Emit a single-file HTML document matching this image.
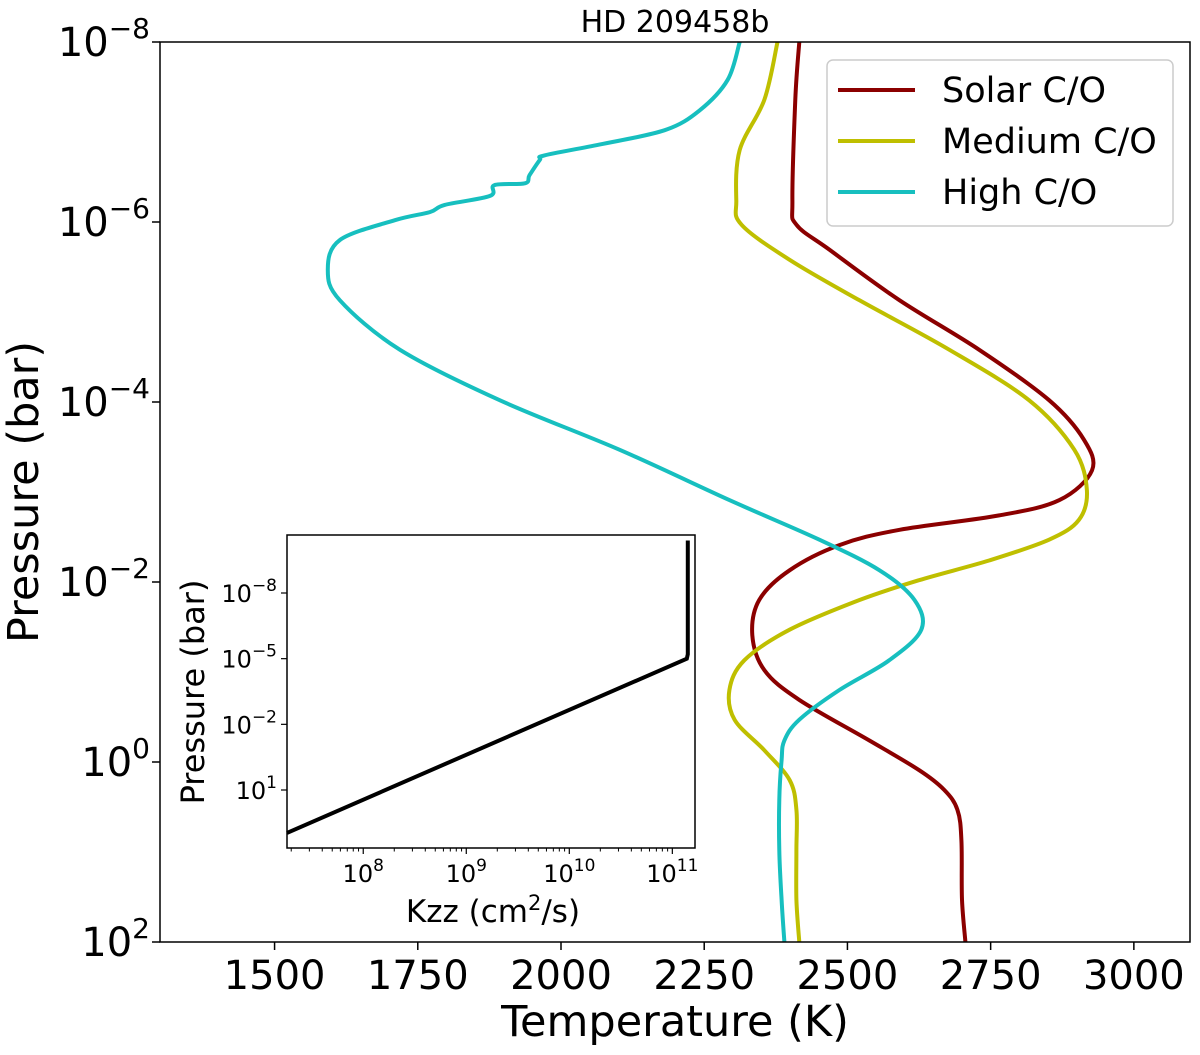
<!DOCTYPE html>
<html><head><meta charset="utf-8"><style>
body{margin:0;background:#fff;}
svg{display:block;font-family:"DejaVu Sans","Liberation Sans",sans-serif;}
</style></head><body>
<svg id="chart" width="1200" height="1055"></svg>
<script>
const solarT=[2416,2409,2404,2411,2469,2591,2730,2852,2913,2927,2870,2765,2591,2486,2399,2346,2334,2355,2416,2538,2625,2669,2692,2699,2700,2706];
const solarP=[-8,-7.36,-6.24,-5.97,-5.69,-5.13,-4.58,-4.02,-3.58,-3.24,-2.91,-2.74,-2.58,-2.41,-2.13,-1.8,-1.41,-1.02,-0.69,-0.24,0.09,0.31,0.53,0.87,1.53,2];
const medT=[2378,2355,2312,2306,2315,2399,2521,2678,2817,2896,2918,2904,2852,2748,2625,2521,2399,2320,2294,2303,2355,2399,2411,2411,2411,2416];
const medP=[-8,-7.36,-6.8,-6.24,-5.97,-5.58,-5.13,-4.58,-4.02,-3.47,-3.02,-2.69,-2.47,-2.24,-2.02,-1.8,-1.47,-1.13,-0.8,-0.47,-0.13,0.2,0.53,0.98,1.53,2];
const highT=[2312,2291,2242,2181,2067,1971,1963,1945,1937,1884,1876,1797,1771,1710,1614,1593,1614,1719,1893,2102,2294,2451,2556,2617,2629,2573,2486,2416,2390,2385,2381,2381,2385,2390];
const highP=[-8,-7.58,-7.24,-7.02,-6.86,-6.74,-6.69,-6.52,-6.43,-6.41,-6.29,-6.19,-6.11,-6.02,-5.8,-5.47,-5.13,-4.58,-4.02,-3.47,-2.91,-2.47,-2.13,-1.8,-1.47,-1.13,-0.8,-0.47,-0.24,-0.02,0.42,0.98,1.53,2];
const xTicks=[1500,1750,2000,2250,2500,2750,3000];
const yTicks=[-8,-6,-4,-2,0,2];
const kzzLogK=[7.26,11.14,11.15,11.15];
const kzzLogP=[2.96,-5,-5.2,-10.4];
const insetXTicks=[8,9,10,11];
const insetYTicks=[-8,-5,-2,1];

const NS="http://www.w3.org/2000/svg";
const svg=document.getElementById('chart');
function mk(tag,attrs,parent){const e=document.createElementNS(NS,tag);for(const k in attrs)e.setAttribute(k,attrs[k]);(parent||svg).appendChild(e);return e;}
const L=160,R=1190,T=42,B=942;
const xs=t=>L+(t-1300)/(3098-1300)*(R-L);
const ys=p=>T+(p+8)/10*(B-T);

function smoothPath(pts){
  let d='M'+pts[0][0].toFixed(1)+','+pts[0][1].toFixed(1);
  for(let i=0;i<pts.length-1;i++){
    const p0=pts[Math.max(0,i-1)],p1=pts[i],p2=pts[i+1],p3=pts[Math.min(pts.length-1,i+2)];
    const c1=[p1[0]+(p2[0]-p0[0])/6,p1[1]+(p2[1]-p0[1])/6];
    const c2=[p2[0]-(p3[0]-p1[0])/6,p2[1]-(p3[1]-p1[1])/6];
    d+='C'+c1[0].toFixed(1)+','+c1[1].toFixed(1)+' '+c2[0].toFixed(1)+','+c2[1].toFixed(1)+' '+p2[0].toFixed(1)+','+p2[1].toFixed(1);
  }
  return d;
}
function series(tA,pA,color,name){
  const pts=tA.map((t,i)=>[xs(t),ys(pA[i])]);
  const p=mk('path',{d:smoothPath(pts),fill:'none',stroke:color,'stroke-width':4,'stroke-linejoin':'round'});
  
  
}
series(solarT,solarP,'#8b0000','solar-co-line');
series(medT,medP,'#bfbf00','medium-co-line');
series(highT,highP,'#17bfbf','high-co-line');

const frame=mk('rect',{x:L,y:T,width:R-L,height:B-T,fill:'none',stroke:'#000','stroke-width':1.5});



xTicks.forEach(v=>{
  const x=xs(v);
  mk('line',{x1:x,y1:B,x2:x,y2:B+8,stroke:'#000','stroke-width':1.5});
  const t=mk('text',{x:x,y:B+47,'font-size':40,'text-anchor':'middle'});t.textContent=v;
  
  
});
yTicks.forEach(v=>{
  const y=ys(v);
  mk('line',{x1:L,y1:y,x2:L-8,y2:y,stroke:'#000','stroke-width':1.5});
  const t=mk('text',{x:150,y:y+14,'font-size':40,'text-anchor':'end'});
  t.innerHTML='10<tspan dy="-18" font-size="28">'+(v<0?'\u2212'+(-v):v)+'</tspan>';
  
  
});

let t=mk('text',{x:675,y:32,'font-size':30,'text-anchor':'middle'});t.textContent='HD 209458b';


t=mk('text',{x:675,y:1036,'font-size':43,'text-anchor':'middle'});t.textContent='Temperature (K)';


t=mk('text',{x:0,y:0,'font-size':43,'text-anchor':'middle',transform:'translate(38,492) rotate(-90)'});t.textContent='Pressure (bar)';



// legend
const lg=mk('rect',{x:827,y:60,width:346,height:166,rx:6,fill:'#fff',stroke:'#ccc','stroke-width':1.5});


[['Solar C/O','#8b0000',90],['Medium C/O','#bfbf00',141],['High C/O','#17bfbf',192]].forEach(e=>{
  mk('line',{x1:838,y1:e[2],x2:915,y2:e[2],stroke:e[1],'stroke-width':4});
  const tt=mk('text',{x:942,y:e[2]+12,'font-size':35});tt.textContent=e[0];
  
  
});

// inset
const iL=287,iR=695,iT=535,iB=848;
const ix=k=>iL+(k-7.26)/(11.22-7.26)*(iR-iL);
const iy=p=>iT+(p+10.65)/(3.65+10.65)*(iB-iT);
const ib=mk('rect',{x:iL,y:iT,width:iR-iL,height:iB-iT,fill:'#fff',stroke:'#000','stroke-width':1.5});


const kd=kzzLogK.map((k,i)=>(i?'L':'M')+ix(k).toFixed(1)+','+iy(kzzLogP[i]).toFixed(1)).join('');
const kl=mk('path',{d:kd,fill:'none',stroke:'#000','stroke-width':4});


insetXTicks.forEach(v=>{
  const x=ix(v);
  mk('line',{x1:x,y1:iB,x2:x,y2:iB+6,stroke:'#000','stroke-width':1.2});
  const tt=mk('text',{x:x,y:iB+34,'font-size':24,'text-anchor':'middle'});
  tt.innerHTML='10<tspan dy="-11" font-size="17">'+v+'</tspan>';
  
  
});
for(let d=7;d<12;d++){for(let m=2;m<10;m++){const k=d+Math.log10(m);if(k>7.26&&k<11.22){const x=ix(k);mk('line',{x1:x,y1:iB,x2:x,y2:iB+3.5,stroke:'#000','stroke-width':1});}}}
insetYTicks.forEach(v=>{
  const y=iy(v);
  mk('line',{x1:iL,y1:y,x2:iL-6,y2:y,stroke:'#000','stroke-width':1.2});
  const tt=mk('text',{x:iL-10,y:y+9,'font-size':24,'text-anchor':'end'});
  tt.innerHTML='10<tspan dy="-11" font-size="17">'+(v<0?'\u2212'+(-v):v)+'</tspan>';
  
  
});
t=mk('text',{x:493,y:922,'font-size':31,'text-anchor':'middle'});
t.innerHTML='Kzz (cm<tspan dy="-12" font-size="21">2</tspan><tspan dy="12">/s)</tspan>';


t=mk('text',{x:0,y:0,'font-size':32,'text-anchor':'middle',transform:'translate(204,692) rotate(-90)'});t.textContent='Pressure (bar)';


</script>
</body></html>
